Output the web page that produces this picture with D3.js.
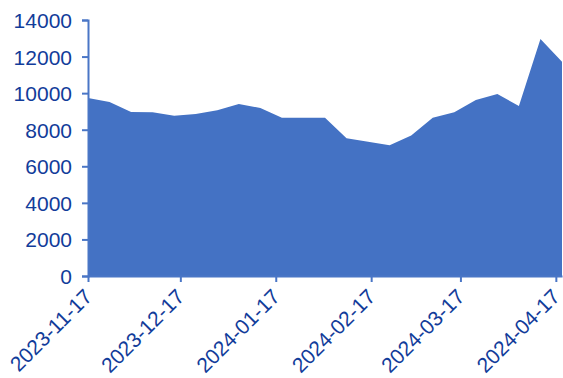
<!DOCTYPE html>
<html>
<head>
<meta charset="utf-8">
<script src="https://cdn.jsdelivr.net/npm/d3@7"></script>
<style>
  html, body { margin: 0; padding: 0; background: #ffffff; }
  svg { display: block; }
  .axis text { font-family: "Liberation Sans", Arial, sans-serif; font-size: 21px; fill: #123c9a; }
  .axis path, .axis line { stroke: #4a76c6; stroke-width: 2; }
</style>
</head>
<body>
<svg id="chart" width="563" height="378"></svg>
<script>
// Weekly observations
const dates = [
  "2023-11-17", "2023-11-24", "2023-12-01", "2023-12-08", "2023-12-15", "2023-12-22",
  "2023-12-29", "2024-01-05", "2024-01-12", "2024-01-19", "2024-01-26", "2024-02-02",
  "2024-02-09", "2024-02-16", "2024-02-23", "2024-03-01", "2024-03-08", "2024-03-15",
  "2024-03-22", "2024-03-29", "2024-04-05", "2024-04-12", "2024-04-19"
];
const values = [
  9730, 9510, 8970, 8960, 8760, 8860,
  9060, 9400, 9190, 8650, 8650, 8650,
  7540, 7340, 7150, 7680, 8650, 8950,
  9620, 9950, 9300, 12960, 11720
];
const yTicks = [0, 2000, 4000, 6000, 8000, 10000, 12000, 14000];
const xTickLabels = ["2023-11-17", "2023-12-17", "2024-01-17", "2024-02-17", "2024-03-17", "2024-04-17"];

const parse = d3.timeParse("%Y-%m-%d");
const fmt = d3.timeFormat("%Y-%m-%d");
const data = dates.map((d, i) => ({ date: parse(d), value: values[i] }));

const svg = d3.select("#chart");
const plotLeft = 88, plotRight = 562, plotTop = 20, plotBottom = 276;

const x = d3.scaleTime()
  .domain(d3.extent(data, d => d.date))
  .range([plotLeft, plotRight]);

const y = d3.scaleLinear()
  .domain([0, 14000])
  .range([plotBottom, plotTop]);

// filled area
const area = d3.area()
  .x(d => x(d.date))
  .y0(y(0))
  .y1(d => y(d.value));

svg.append("path")
  .datum(data)
  .attr("fill", "#4472C4")
  .attr("d", area);

// y axis
const yAxis = svg.append("g")
  .attr("class", "axis")
  .attr("transform", `translate(${plotLeft},0)`)
  .call(d3.axisLeft(y).tickValues(yTicks).tickFormat(d3.format("d")).tickSize(6).tickPadding(10));
yAxis.selectAll("text").attr("dy", "0.36em");

// x axis
const xAxis = svg.append("g")
  .attr("class", "axis")
  .attr("transform", `translate(0,${plotBottom})`)
  .call(d3.axisBottom(x)
    .tickValues(xTickLabels.map(parse))
    .tickFormat(fmt)
    .tickSize(6)
    .tickSizeOuter(0));

xAxis.selectAll("text")
  .attr("text-anchor", "end")
  .attr("dy", null)
  .attr("y", 0)
  .attr("transform", "translate(5,22) rotate(-45)");
</script>
</body>
</html>
